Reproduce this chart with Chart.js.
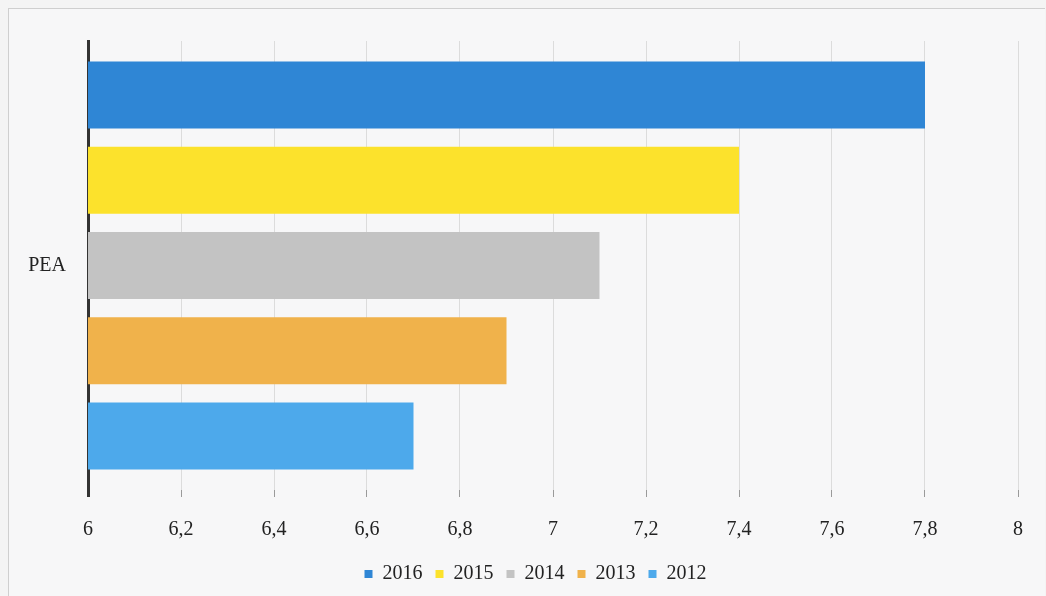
<!DOCTYPE html>
<html>
<head>
<meta charset="utf-8">
<script src="https://cdn.jsdelivr.net/npm/chart.js@4/dist/chart.umd.min.js"></script>
<style>
  html, body { margin: 0; padding: 0; background: #f4f4f4; }
  #frame {
    position: absolute; left: 8px; top: 8px; width: 1036px; height: 588px;
    border-left: 1px solid #cfcfcf; border-top: 1px solid #cfcfcf;
    background: #f7f7f8;
  }
  canvas { display: block; }
</style>
</head>
<body>
<div id="frame"><canvas id="barChart" width="1036" height="588"></canvas></div>
<script>
// Data
const categories = ['PEA'];
const years = ['2016', '2015', '2014', '2013', '2012'];
const values2016 = [7.8];
const values2015 = [7.4];
const values2014 = [7.1];
const values2013 = [6.9];
const values2012 = [6.7];
const colors = ['#2f86d5', '#fce22c', '#c3c3c3', '#f0b24b', '#4da9eb'];

const series = [values2016, values2015, values2014, values2013, values2012];

// nudge the legend a bit to the right, like the original
const legendShift = {
  id: 'legendShift',
  afterLayout(chart) {
    chart.legend.left += 16;
    chart.legend.right += 16;
  }
};

document.addEventListener('DOMContentLoaded', () => {
  const ctx = document.getElementById('barChart').getContext('2d');
  new Chart(ctx, {
    type: 'bar',
    data: {
      labels: categories,
      datasets: series.map((vals, i) => ({
        label: years[i],
        data: vals,
        backgroundColor: colors[i],
        borderWidth: 0,
        categoryPercentage: 0.949,
        barPercentage: 0.786
      }))
    },
    plugins: [legendShift],
    options: {
      indexAxis: 'y',
      responsive: false,
      animation: false,
      layout: { padding: { left: 12, right: 27, top: 32, bottom: 3 } },
      scales: {
        x: {
          min: 6,
          max: 8,
          afterFit: (s) => { s.height = 61; },
          ticks: {
            stepSize: 0.2,
            color: '#222',
            padding: 21,
            font: { family: 'Liberation Serif', size: 20 },
            callback: (v) => String(Math.round(v * 10) / 10).replace('.', ',')
          },
          grid: {
            color: (c) => c.index === 0 ? '#333' : '#dcdcdc',
            tickColor: (c) => c.index === 0 ? '#333' : '#9a9a9a',
            lineWidth: (c) => c.index === 0 ? 3 : 1,
            tickLength: 7
          },
          border: { display: false }
        },
        y: {
          afterFit: (s) => {
            s.width = 67;
            s.paddingTop = 0;
            s.paddingBottom = 0;
          },
          ticks: {
            color: '#222',
            padding: 14,
            font: { family: 'Liberation Serif', size: 20 }
          },
          grid: { display: false },
          border: { color: '#333', width: 3 }
        }
      },
      plugins: {
        legend: {
          position: 'bottom',
          labels: {
            boxWidth: 8,
            boxHeight: 8,
            padding: 13,
            color: '#222',
            font: { family: 'Liberation Serif', size: 20 }
          }
        },
        tooltip: { enabled: false }
      }
    }
  });
});
</script>
</body>
</html>
